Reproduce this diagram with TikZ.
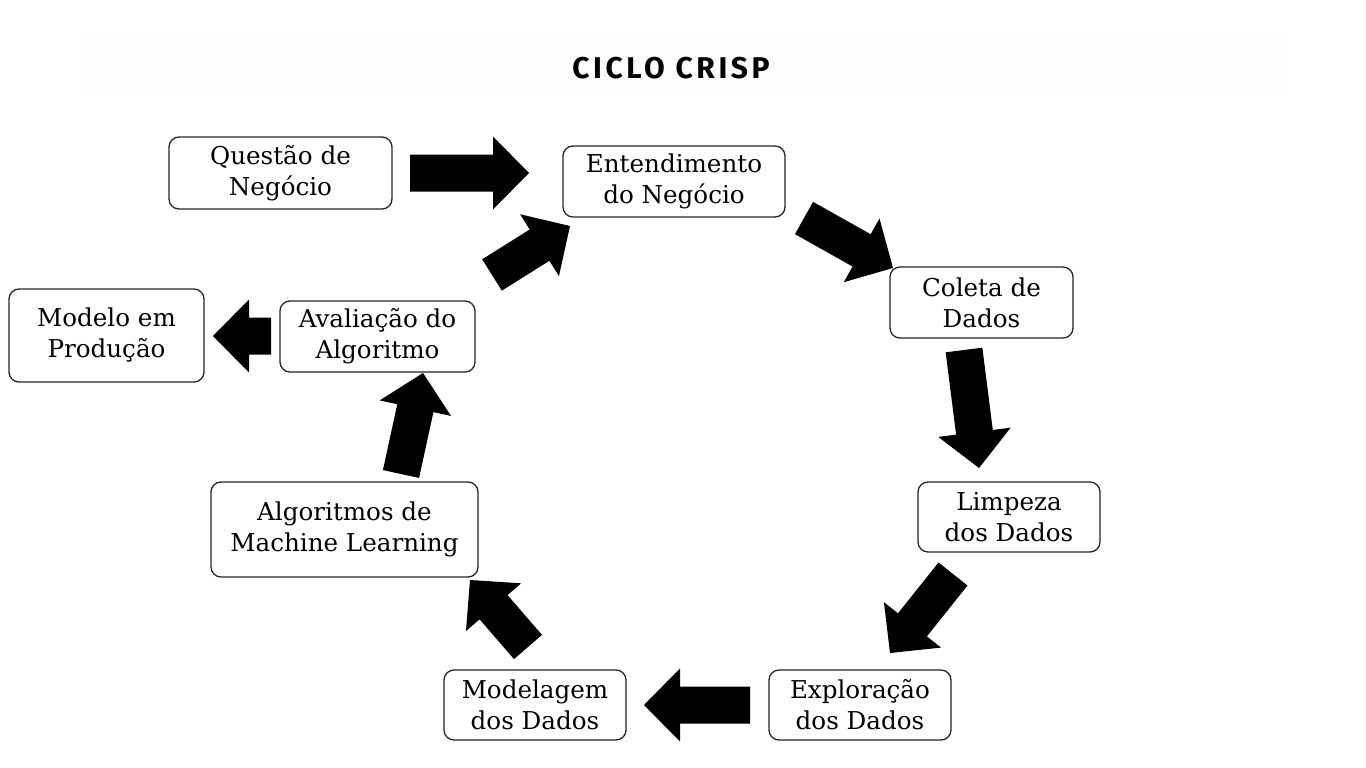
\documentclass[tikz,border=0pt]{standalone}
\usepackage{fontspec}
\setmainfont{DejaVu Serif}
\newfontfamily\titlefont[LetterSpace=12]{Fira Sans}
\usetikzlibrary{calc}
\tikzset{
  box/.style={draw=black!85, line width=1.3pt, rounded corners=10pt, fill=white,
    align=center, inner sep=0pt, font=\fontsize{24.6}{31}\selectfont},
  blk/.style={fill=black, draw=none}
}
\newcommand\blockarrow[2]{%
  \coordinate (hb) at ($(#2)!36pt!(#1)$);
  \fill[blk] ($(#1)!18.5pt!90:(#2)$) -- ($(hb)!18.5pt!90:(#2)$) -- ($(hb)!36.5pt!90:(#2)$)
    -- (#2) -- ($(hb)!36.5pt!-90:(#2)$) -- ($(hb)!18.5pt!-90:(#2)$) -- ($(#1)!18.5pt!-90:(#2)$) -- cycle;
}
\begin{document}
\begin{tikzpicture}[x=1pt,y=-1pt]
\useasboundingbox (0,0) rectangle (1366,768);
\fill[white] (0,0) rectangle (1366,768);
\fill[black!0.8] (80,35) rectangle (1288,95);
\node[font=\titlefont\bfseries\fontsize{30}{30}\selectfont] (title) at (671,68) {CICLO CRISP};

\node[box, minimum width=223pt, minimum height=72pt] (q) at (280.5,173) {Questão de\\Negócio};
\node[box, minimum width=222pt, minimum height=71pt] (e) at (674,181.5) {Entendimento\\do Negócio};
\node[box, minimum width=183pt, minimum height=71pt] (c) at (981.5,302.5) {Coleta de\\Dados};
\node[box, minimum width=182pt, minimum height=70pt] (l) at (1009,517) {Limpeza\\dos Dados};
\node[box, minimum width=182pt, minimum height=70pt] (x) at (860,705) {Exploração\\dos Dados};
\node[box, minimum width=182pt, minimum height=70pt] (m) at (535,705) {Modelagem\\dos Dados};
\node[box, minimum width=267pt, minimum height=95pt] (a) at (344.5,529.5) {Algoritmos de\\Machine Learning};
\node[box, minimum width=195pt, minimum height=71pt] (v) at (377.5,336.5) {Avaliação do\\Algoritmo};
\node[box, minimum width=195pt, minimum height=93pt] (p) at (106.5,335.5) {Modelo em\\Produção};

\coordinate (a1s) at (410,173);  \coordinate (a1e) at (529,173);
\coordinate (a2s) at (804,218);  \coordinate (a2e) at (893,268);
\coordinate (a3s) at (964,350);  \coordinate (a3e) at (979,468);
\coordinate (a4s) at (953,574);  \coordinate (a4e) at (890,653);
\coordinate (a5s) at (750,705);  \coordinate (a5e) at (644,705);
\coordinate (a6s) at (528,647);  \coordinate (a6e) at (470,580);
\coordinate (a7s) at (401,474);  \coordinate (a7e) at (423,373);
\coordinate (a8s) at (492,275);  \coordinate (a8e) at (570,226);
\coordinate (a9s) at (271,336);  \coordinate (a9e) at (213,336);

\blockarrow{a1s}{a1e}
\blockarrow{a2s}{a2e}
\blockarrow{a3s}{a3e}
\blockarrow{a4s}{a4e}
\blockarrow{a5s}{a5e}
\blockarrow{a6s}{a6e}
\blockarrow{a7s}{a7e}
\blockarrow{a8s}{a8e}
\blockarrow{a9s}{a9e}
\end{tikzpicture}
\end{document}
